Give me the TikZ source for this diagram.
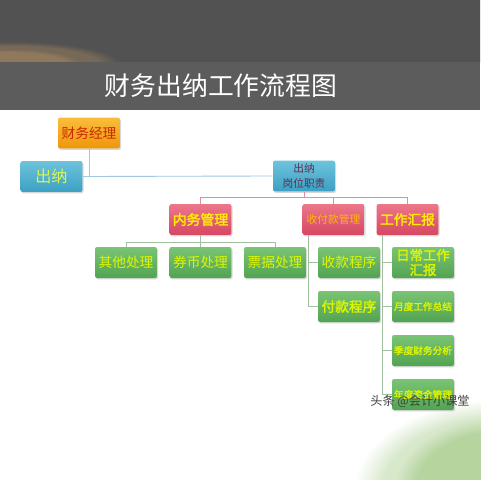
\documentclass[tikz,border=0pt]{standalone}
\usepackage{fontspec}
\setmainfont{Noto Sans CJK SC}[AutoFakeBold=2]
\usetikzlibrary{shadows,fadings}
\definecolor{orTop}{RGB}{250,190,60}
\definecolor{orBot}{RGB}{238,150,10}
\definecolor{blTop}{RGB}{110,195,220}
\definecolor{blBot}{RGB}{60,160,195}
\definecolor{rdTop}{RGB}{236,118,138}
\definecolor{rdBot}{RGB}{214,72,98}
\definecolor{gnTop}{RGB}{122,196,116}
\definecolor{gnBot}{RGB}{82,164,82}
\definecolor{lnBlue}{RGB}{160,200,225}
\definecolor{lnRed}{RGB}{228,140,155}
\definecolor{lnGreen}{RGB}{160,192,160}
\definecolor{tMgr}{RGB}{200,40,0}
\definecolor{tCn}{RGB}{215,245,90}
\definecolor{tDuty}{RGB}{95,45,80}
\definecolor{tYel}{RGB}{255,240,0}
\definecolor{tOrg}{RGB}{255,180,20}
\definecolor{tGn}{RGB}{222,245,0}
\definecolor{glowGn}{RGB}{168,204,140}
\definecolor{glowOr}{RGB}{190,150,100}
\begin{document}
\begin{tikzpicture}[x=0.02cm,y=-0.02cm,
  box/.style={rounded corners=1.2pt,minimum width=1.24cm,minimum height=0.62cm,inner sep=0pt,align=center,
    drop shadow={opacity=0.3,shadow xshift=0.6pt,shadow yshift=-0.8pt}},
  orbox/.style={box,top color=orTop,bottom color=orBot},
  blbox/.style={box,top color=blTop,bottom color=blBot},
  rdbox/.style={box,top color=rdTop,bottom color=rdBot},
  gnbox/.style={box,top color=gnTop,bottom color=gnBot,text=tGn},
  glow/.style={path fading=circle with fuzzy edge 20 percent},
  lnb/.style={draw=lnBlue,line width=0.5pt},
  lnr/.style={draw=lnRed,line width=0.5pt},
  lng/.style={draw=lnGreen,line width=0.5pt}]
  \useasboundingbox (0,0) rectangle (480,480);
  \fill[white] (0,0) rectangle (480,480);
  \shade[left color=black!68,middle color=black!42,right color=black!68] (0,0) rectangle (480,62);
  \fill[black!68,path fading=south] (0,0) rectangle (480,62);
  \fill[glowOr,glow,opacity=0.35] (10,64) ellipse [x radius=2.2cm,y radius=0.45cm];
  \fill[glowOr,glow,opacity=0.35] (10,64) ellipse [x radius=1.4cm,y radius=0.3cm];
  \fill[black!64] (0,62) rectangle (480,110);
  \fill[glowGn,glow,opacity=0.45] (500,490) ellipse [x radius=2.9cm,y radius=1.8cm];
  \fill[glowGn,glow,opacity=0.7] (500,490) ellipse [x radius=2.1cm,y radius=1.45cm];
  \node[text=white,font=\fontsize{14.7}{15}\selectfont] (title) at (221,86) {财务出纳工作流程图};

  \node[orbox,text=tMgr,font=\fontsize{7.8}{8}\selectfont] (mgr) at (89,133) {财务经理};
  \node[blbox,text=tCn,font=\fontsize{9.2}{10}\selectfont] (cn) at (51.5,176.5) {出纳};
  \node[blbox,text=tDuty,font=\fontsize{6.1}{8.6}\selectfont] (duty) at (304,176) {出纳\\岗位职责};
  \node[rdbox,text=tYel,font=\bfseries\fontsize{7.9}{8}\selectfont] (nw) at (200.5,219.5) {内务管理};
  \node[rdbox,text=tOrg,font=\fontsize{6.1}{7}\selectfont] (pay) at (333.5,219.5) {收付款管理};
  \node[rdbox,text=tYel,font=\bfseries\fontsize{7.8}{8}\selectfont] (rep) at (407.5,219.5) {工作汇报};

  \foreach \t/\x/\n in {其他处理/126/oth,券币处理/200.5/coin,票据处理/275/bill}
    \node[gnbox,font=\fontsize{7.8}{8}\selectfont] (\n) at (\x,262.5) {\t};
  \node[gnbox,font=\fontsize{7.8}{8}\selectfont] (inc) at (349,262.5) {收款程序};
  \node[gnbox,font=\bfseries\fontsize{7.8}{8}\selectfont] (outp) at (349,306.5) {付款程序};
  \node[gnbox,font=\bfseries\fontsize{7.6}{8.4}\selectfont] (d1) at (423,262.5) {日常工作\\汇报};
  \foreach \t [count=\i from 2] in {月度工作总结,季度财务分析,年度资金管理}{
    \pgfmathsetmacro\y{262.5+(\i-1)*44}
    \node[gnbox,font=\bfseries\fontsize{5.5}{6}\selectfont] (d\i) at (423,\y) {\t};
  }

  \coordinate (r1) at (0,197);
  \coordinate (r2) at (0,242);
  \draw[lnb] (cn.east) -- (duty.west);
  \draw[lnb] (mgr.south) -- (mgr.south |- cn.east);
  \draw[lnr] (duty.south) -- (duty.south |- r1);
  \draw[lnr] (nw.north) |- (r1 -| rep.north) -- (rep.north);
  \draw[lnr] (pay.north) -- (pay.north |- r1);
  \draw[lng] (oth.north) |- (r2 -| bill.north) -- (bill.north);
  \draw[lng] (nw.south) -- (coin.north);
  \coordinate (pv) at ([xshift=0.12cm]pay.south west);
  \draw[lng] (pv) |- (outp.west);
  \draw[lng] (pv |- inc.west) -- (inc.west);
  \coordinate (rv) at ([xshift=0.12cm]rep.south west);
  \draw[lng] (rv) |- (d4.west);
  \foreach \k in {d1,d2,d3}
    \draw[lng] (rv |- \k.west) -- (\k.west);

  \node[text=black!75,font=\fontsize{6.9}{7}\selectfont] (mark) at (420,401) {头条 @会计小课堂};
\end{tikzpicture}
\end{document}
